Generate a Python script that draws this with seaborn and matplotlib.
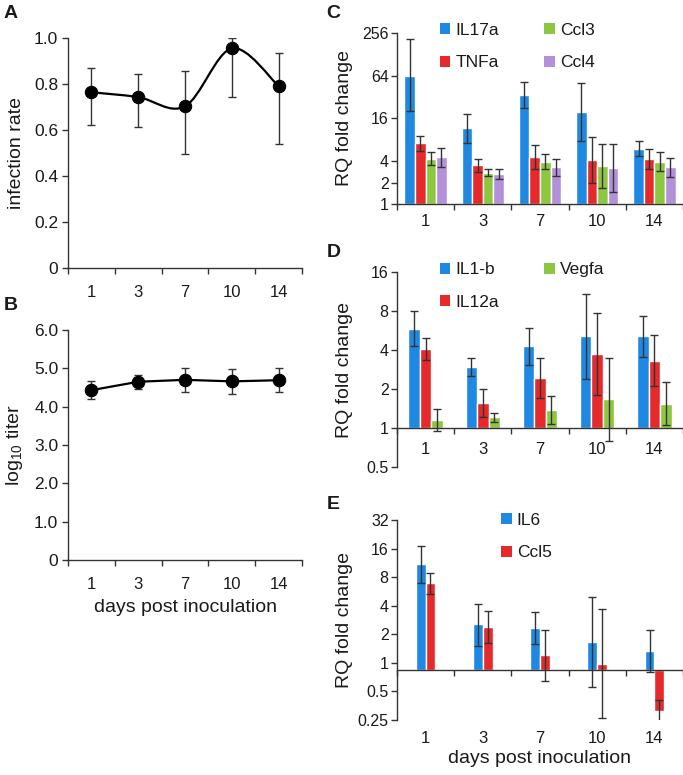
import numpy as np
import pandas as pd
import matplotlib
matplotlib.use("Agg")
import matplotlib.pyplot as plt
from matplotlib.path import Path
from matplotlib.patches import PathPatch, Patch
from matplotlib.ticker import NullLocator
import seaborn as sns

days = ["1", "3", "7", "10", "14"]

# A: infection rate (mean, lower and upper end of error bar)
rate = [0.764, 0.743, 0.703, 0.955, 0.791]
rate_lo = [0.622, 0.613, 0.496, 0.742, 0.539]
rate_hi = [0.870, 0.842, 0.858, 1.000, 0.935]

# B: log10 titer
titer = [4.43, 4.65, 4.70, 4.66, 4.69]
titer_lo = [4.19, 4.47, 4.39, 4.34, 4.37]
titer_hi = [4.67, 4.83, 5.02, 4.99, 5.02]

# C: RQ fold change
c_genes = ["IL17a", "TNFa", "Ccl3", "Ccl4"]
c_vals = [[64.0, 11.6, 34.5, 19.7, 6.0],
          [7.2, 3.5, 4.66, 4.14, 4.36],
          [4.36, 2.77, 3.95, 3.43, 3.92],
          [4.56, 2.62, 3.29, 3.18, 3.29]]
c_lo = [[20.1, 7.2, 22.3, 7.6, 4.7],
        [5.6, 2.8, 3.1, 2.0, 3.1],
        [3.5, 2.46, 3.1, 1.68, 2.87],
        [3.36, 2.23, 2.51, 1.47, 2.43]]
c_hi = [[211.0, 18.4, 53.0, 50.6, 7.7],
        [9.0, 4.36, 6.8, 8.9, 6.0],
        [5.46, 3.16, 5.13, 7.0, 5.35],
        [6.1, 3.1, 4.3, 6.96, 4.5]]

# D
d_genes = ["IL1-b", "IL12a", "Vegfa"]
d_vals = [[5.86, 2.95, 4.26, 5.1, 5.1],
          [4.06, 1.57, 2.43, 3.71, 3.29],
          [1.15, 1.21, 1.38, 1.66, 1.54]]
d_lo = [[4.26, 2.53, 3.05, 2.38, 3.53],
        [3.32, 1.22, 1.69, 1.8, 2.1],
        [0.95, 1.11, 1.07, 0.8, 1.06]]
d_hi = [[8.06, 3.46, 5.94, 10.85, 7.36],
        [4.92, 2.0, 3.46, 7.73, 5.2],
        [1.41, 1.31, 1.78, 3.5, 2.25]]

# E
e_genes = ["IL6", "Ccl5"]
e_vals = [[10.9, 2.55, 2.31, 1.67, 1.33],
          [6.9, 2.39, 1.2, 0.98, 0.31]]
e_lo = [[7.0, 1.52, 1.57, 0.56, 0.8],
        [5.3, 1.63, 0.64, 0.26, 0.24]]
e_hi = [[17.2, 4.2, 3.4, 5.0, 2.24],
        [8.9, 3.49, 2.23, 3.7, 0.41]]

blue, red, green, purple = "#1f88e2", "#e62a2b", "#8dc63f", "#b291da"
axcol = "#333333"

sns.set_theme(style="ticks")
plt.rcParams["font.family"] = ["Liberation Sans", "DejaVu Sans"]
plt.rcParams["mathtext.fontset"] = "custom"
plt.rcParams["mathtext.rm"] = "Liberation Sans"
plt.rcParams["axes.edgecolor"] = axcol
plt.rcParams["xtick.color"] = axcol
plt.rcParams["ytick.color"] = axcol
plt.rcParams["text.color"] = "#1a1a1a"
plt.rcParams["axes.labelcolor"] = "#1a1a1a"

fig = plt.figure(figsize=(6.83, 7.75), dpi=100)
W, H = 683.0, 775.0


def add_ax(x0, y0, x1, y1):
    return fig.add_axes([x0 / W, 1 - y1 / H, (x1 - x0) / W, (y1 - y0) / H])


def style_x(ax, pad, size=12):
    ax.set_xlim(-0.5, 4.5)
    ax.set_xticks(range(5), days)
    ax.set_xticks(np.arange(-0.5, 5, 1), minor=True)
    ax.tick_params(axis="x", which="major", length=0, pad=pad, labelsize=size, labelcolor="#1a1a1a")
    ax.tick_params(axis="x", which="minor", length=4, width=1, direction="out")
    for s in ["left", "bottom"]:
        ax.spines[s].set_linewidth(1)
    sns.despine(ax=ax)


def smooth_curve(xs, ys):
    # Excel-like smoothed line (Catmull-Rom as cubic Bezier segments)
    pts = np.column_stack([xs, ys]).astype(float)
    n = len(pts)
    verts = [pts[0]]
    codes = [Path.MOVETO]
    for i in range(n - 1):
        p0 = pts[i - 1] if i > 0 else pts[i]
        p1, p2 = pts[i], pts[i + 1]
        p3 = pts[i + 2] if i + 2 < n else pts[i + 1]
        verts += [p1 + (p2 - p0) / 6, p2 - (p3 - p1) / 6, p2]
        codes += [Path.CURVE4] * 3
    return Path(verts, codes)


# ---- A ----
axA = add_ax(68, 38, 302, 268)
dfA = pd.DataFrame({"pos": np.arange(5), "rate": rate})
axA.add_patch(PathPatch(smooth_curve(dfA["pos"], dfA["rate"]), fill=False, lw=1.6, color="black", zorder=2))
r = np.array(rate)
axA.errorbar(dfA["pos"], r, yerr=[r - np.array(rate_lo), np.array(rate_hi) - r], fmt="none",
             ecolor=axcol, elinewidth=1, capsize=3, capthick=1, zorder=1)
sns.scatterplot(data=dfA, x="pos", y="rate", color="black", s=80, edgecolor="black", zorder=3, ax=axA)
axA.set_ylim(0, 1.0)
axA.set_yticks([0, 0.2, 0.4, 0.6, 0.8, 1.0], ["0", "0.2", "0.4", "0.6", "0.8", "1.0"])
axA.tick_params(axis="y", length=4, width=1, pad=3, labelsize=12.5, labelcolor="#1a1a1a")
style_x(axA, pad=12)
axA.set_xlabel("")
axA.set_ylabel("infection rate", fontsize=14)
axA.yaxis.set_label_coords(-0.185, 0.5)

# ---- B ----
axB = add_ax(68, 330, 302, 560)
dfB = pd.DataFrame({"pos": np.arange(5), "titer": titer})
t = np.array(titer)
axB.errorbar(dfB["pos"], t, yerr=[t - np.array(titer_lo), np.array(titer_hi) - t], fmt="none",
             ecolor=axcol, elinewidth=1, capsize=3, capthick=1, zorder=1)
sns.lineplot(data=dfB, x="pos", y="titer", color="black", lw=1.6, marker="o", markersize=9,
             markeredgecolor="black", zorder=3, ax=axB)
axB.set_ylim(0, 6.0)
axB.set_yticks(range(7), ["0", "1.0", "2.0", "3.0", "4.0", "5.0", "6.0"])
axB.tick_params(axis="y", length=4, width=1, pad=3, labelsize=12.5, labelcolor="#1a1a1a")
style_x(axB, pad=12)
axB.set_xlabel("days post inoculation", fontsize=14, labelpad=5)
axB.set_ylabel("log$_{10}$ titer", fontsize=14)
axB.yaxis.set_label_coords(-0.185, 0.5)


# ---- bar panels ----
def bar_panel(ax, genes, vals, los, his, colors, width, base, ylim, yticks, ylabels):
    rows = []
    for g, v in zip(genes, vals):
        for i, val in enumerate(v):
            rows.append({"pos": i, "gene": g, "val": val})
    df = pd.DataFrame(rows)
    sns.barplot(data=df, x="pos", y="val", hue="gene", hue_order=genes, palette=colors,
                width=width, errorbar=None, saturation=1, legend=False, ax=ax, zorder=2)
    ax.set_yscale("log", base=2)
    for cont, v, lo, hi in zip(ax.containers, vals, los, his):
        xs = []
        for bar, val in zip(cont, v):
            bar.set_y(base)
            bar.set_height(val - base)
            xs.append(bar.get_x() + bar.get_width() / 2)
        v = np.array(v)
        ax.errorbar(xs, v, yerr=[v - np.array(lo), np.array(hi) - v], fmt="none", ecolor=axcol,
                    elinewidth=1, capsize=3, capthick=1, zorder=3)
    ax.set_ylim(ylim)
    ax.set_yticks(yticks, ylabels)
    ax.yaxis.set_minor_locator(NullLocator())
    ax.tick_params(axis="y", length=4, width=1, pad=2, labelsize=11.5, labelcolor="#1a1a1a")
    ax.spines["bottom"].set_position(("data", base))
    ax.set_xlabel("")
    ax.set_ylabel("RQ fold change", fontsize=14)
    ax.yaxis.set_label_coords(-0.155, 0.5)
    handles = [Patch(facecolor=c, edgecolor="none", label=g) for g, c in zip(genes, colors)]
    return handles


leg_kw = dict(loc="upper left", frameon=False, handlelength=0.6, handleheight=0.6,
              handletextpad=0.3, labelspacing=1.0, columnspacing=2.6, fontsize=12.5,
              borderaxespad=0)

axC = add_ax(397, 33, 683, 204)
hC = bar_panel(axC, c_genes, c_vals, c_lo, c_hi, [blue, red, green, purple], 0.74, 1.0,
               (1, 256), [1, 2, 4, 16, 64, 256], ["1", "2", "4", "16", "64", "256"])
style_x(axC, pad=7)
axC.legend(handles=hC, ncol=2, bbox_to_anchor=(0.125, 1.1), **leg_kw)

axD = add_ax(397, 272, 683, 467)
hD = bar_panel(axD, d_genes, d_vals, d_lo, d_hi, [blue, red, green], 0.6, 1.0,
               (0.5, 16), [0.5, 1, 2, 4, 8, 16], ["0.5", "1", "2", "4", "8", "16"])
style_x(axD, pad=10)
axD.legend(handles=hD, ncol=2, bbox_to_anchor=(0.125, 1.085), **leg_kw)

axE = add_ax(397, 520, 683, 720)
hE = bar_panel(axE, e_genes, e_vals, e_lo, e_hi, [blue, red], 0.34, 0.84,
               (0.25, 32), [0.25, 0.5, 1, 2, 4, 8, 16, 32],
               ["0.25", "0.5", "1", "2", "4", "8", "16", "32"])
style_x(axE, pad=44)
axE.legend(handles=hE, ncol=1, bbox_to_anchor=(0.34, 1.07), **leg_kw)
axE.set_xlabel("days post inoculation", fontsize=14, labelpad=3)

# panel letters
for letter, x, y in [("A", 4, 5), ("B", 4, 297), ("C", 326, 5), ("D", 327, 244), ("E", 327, 496)]:
    fig.text(x / W, 1 - y / H, letter, fontsize=14, fontweight="bold", ha="left", va="top")

fig.savefig("out.png", dpi=100)
